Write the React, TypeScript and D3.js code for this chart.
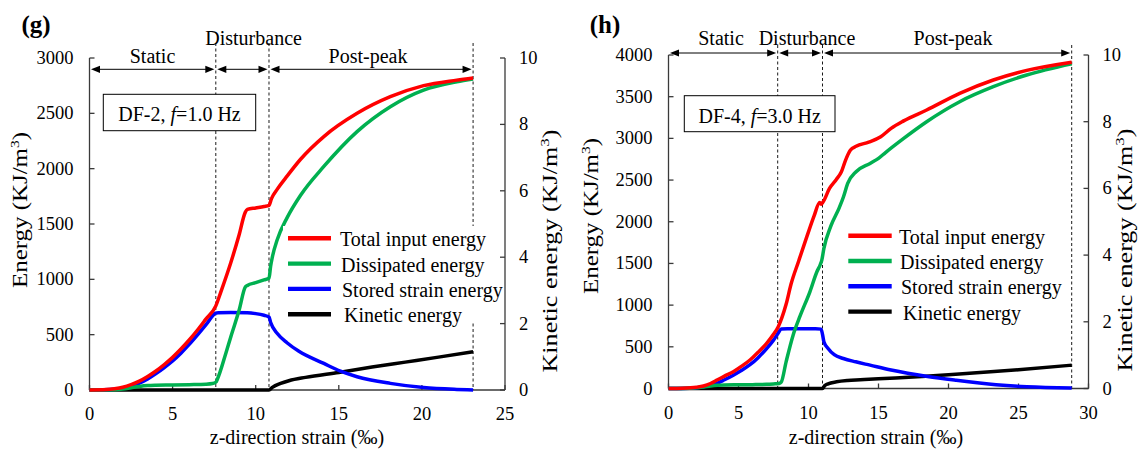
import React from 'react';
import * as d3 from 'd3';

type Pt = [number, number];

// ---- panel (g): DF-2, f = 1.0 Hz ----  [strain ‰, energy KJ/m3]
const gTotal: Pt[] = [[0, 0], [1, 4], [1.5, 12], [2, 25], [2.5, 48], [3, 80], [3.5, 122], [4, 172], [4.5, 230], [5, 295], [5.5, 370], [6, 452], [6.5, 542], [7, 640], [7.6, 760], [7.9, 885], [8.5, 1150], [9, 1400], [9.37, 1605], [9.5, 1632], [10, 1645], [10.5, 1658], [10.8, 1668], [10.95, 1730], [11.3, 1815], [11.9, 1935], [12.7, 2085], [14.1, 2290], [16.1, 2500], [18.1, 2650], [20.1, 2750], [22.1, 2800], [23.08, 2820]];
const gDissipated: Pt[] = [[0, 0], [1.5, 2], [2, 8], [2.5, 20], [3, 32], [3.5, 40], [4, 43], [5, 45], [6, 48], [7, 52], [7.4, 58], [7.6, 70], [7.7, 100], [8.2, 330], [8.5, 480], [9, 720], [9.37, 930], [9.5, 945], [10, 970], [10.5, 995], [10.8, 1010], [10.9, 1120], [11, 1200], [11.3, 1360], [11.9, 1560], [12.7, 1760], [14.1, 2020], [16.1, 2335], [18.1, 2560], [20.1, 2710], [22.1, 2785], [23.08, 2810]];
const gStored: Pt[] = [[0, 0], [1.5, 6], [2, 16], [2.5, 34], [3, 62], [3.5, 100], [4, 148], [4.5, 203], [5, 263], [5.5, 333], [6, 412], [6.5, 498], [7, 588], [7.6, 694], [7.75, 698], [8.5, 700], [9.5, 698], [10, 690], [10.5, 675], [10.8, 660], [10.9, 610], [11.3, 510], [11.9, 425], [12.6, 350], [14.1, 240], [15.1, 170], [16.1, 120], [18.1, 60], [20.1, 22], [22.1, 5], [23.08, 0]];
// kinetic energy on the right axis (0–10 KJ/m3)
const gKinetic: Pt[] = [[0, 0], [10.8, 0], [11, 0.08], [11.5, 0.2], [12, 0.28], [13, 0.38], [15, 0.53], [17, 0.69], [19, 0.84], [21, 0.99], [23.08, 1.15]];
const gPhaseEnds = [7.6, 10.8, 23.08];

// ---- panel (h): DF-4, f = 3.0 Hz ----
const hTotal: Pt[] = [[0, 0], [1, 3], [2, 15], [2.5, 30], [3, 60], [3.5, 105], [4, 148], [4.63, 202], [5.2, 265], [5.82, 342], [6.4, 435], [7.01, 542], [7.5, 650], [7.84, 742], [8.1, 850], [8.4, 1010], [8.75, 1250], [9.3, 1530], [9.9, 1830], [10.4, 2070], [10.8, 2230], [10.9, 2210], [11.05, 2240], [11.5, 2400], [12, 2510], [12.35, 2600], [12.65, 2740], [13, 2860], [13.4, 2905], [14.3, 2955], [15.16, 3020], [15.9, 3120], [16.8, 3210], [18.44, 3340], [20.8, 3540], [23.2, 3700], [25.59, 3815], [28.8, 3914]];
const hDissipated: Pt[] = [[0, 0], [1.5, 3], [2, 8], [2.5, 18], [3, 30], [3.5, 38], [4, 42], [5, 44], [6, 46], [7, 50], [7.5, 55], [7.9, 60], [8.05, 75], [8.4, 320], [8.9, 640], [9.4, 870], [10.1, 1160], [10.6, 1400], [10.85, 1490], [10.95, 1540], [11.1, 1680], [11.6, 1950], [12.2, 2170], [12.5, 2300], [12.8, 2460], [13.4, 2600], [14.4, 2700], [15, 2760], [15.5, 2830], [16.8, 3000], [18.44, 3200], [20.8, 3440], [23.2, 3620], [25.59, 3760], [28.8, 3894]];
const hStored: Pt[] = [[0, 0], [1.5, 3], [2, 10], [2.5, 22], [3, 40], [3.5, 65], [4, 105], [4.63, 160], [5.2, 215], [5.82, 285], [6.4, 370], [7.01, 480], [7.5, 580], [7.84, 665], [8.05, 715], [8.5, 718], [9.5, 718], [10.5, 718], [10.9, 712], [11, 650], [11.1, 560], [11.4, 480], [11.84, 405], [12.49, 360], [13.37, 320], [14.4, 280], [15.9, 222], [18.5, 145], [20.5, 100], [23.4, 45], [25.6, 20], [28.8, 5]];
const hKinetic: Pt[] = [[0, 0], [11, 0], [11.15, 0.08], [11.4, 0.14], [12, 0.2], [12.8, 0.24], [13.7, 0.26], [15, 0.29], [18.1, 0.36], [20, 0.41], [22, 0.47], [25, 0.56], [28.8, 0.7]];
const hPhaseEnds = [7.8, 11.0, 28.8];

const phaseNames = ['Static', 'Disturbance', 'Post-peak'];
const legendNames = ['Total input energy', 'Dissipated energy', 'Stored strain energy', 'Kinetic energy'];
const seriesColors = ['#ff0000', '#00b050', '#0000ff', '#000000'];
const gEnergyTicks = [0, 500, 1000, 1500, 2000, 2500, 3000];
const hEnergyTicks = [0, 500, 1000, 1500, 2000, 2500, 3000, 3500, 4000];
const kineticTicks = [0, 2, 4, 6, 8, 10];
const gStrainTicks = [0, 5, 10, 15, 20, 25];
const hStrainTicks = [0, 5, 10, 15, 20, 25, 30];

const FONT = "'Liberation Serif', 'Times New Roman', Times, serif";
const AXIS = '#3a3a3a';

const panels = [
  {
    tag: '(g)', tagX: 36, caseName: 'DF-2, ', freq: '1.0',
    series: [gTotal, gDissipated, gStored], kinetic: gKinetic, phaseEnds: gPhaseEnds,
    xMax: 25, yMax: 3000, energyTicks: gEnergyTicks, strainTicks: gStrainTicks,
    left: 89.5, right: 505, top: 58, bottom: 390,
    arrowY: 69.3, dashTop: 43,
    phaseLabel: [[152.5, 63], [253.6, 45], [368, 63]],
    box: { x: 103.3, y: 94.3, w: 152.4, h: 36.4 },
    legend: { x1: 288, x2: 331, tx: 340, y0: 238.3, dy: 25.3, bx: 283, by: 226, bw: 204, bh: 96 },
    yLab: { x: 27, y: 210 }, kLab: { x: 557, y: 251 }, xLabX: 297,
  },
  {
    tag: '(h)', tagX: 605, caseName: 'DF-4, ', freq: '3.0',
    series: [hTotal, hDissipated, hStored], kinetic: hKinetic, phaseEnds: hPhaseEnds,
    xMax: 30, yMax: 4000, energyTicks: hEnergyTicks, strainTicks: hStrainTicks,
    left: 668.5, right: 1088.5, top: 55, bottom: 388.5,
    arrowY: 53, dashTop: 45,
    phaseLabel: [[721, 45], [807, 45], [953, 45]],
    box: { x: 684.3, y: 95.7, w: 150.7, h: 36 },
    legend: { x1: 848.3, x2: 891.7, tx: 899, y0: 235.7, dy: 25.3, bx: 843, by: 223, bw: 215, bh: 100 },
    yLab: { x: 598, y: 216 }, kLab: { x: 1132, y: 250 }, xLabX: 876,
  },
];

function Arrow({ x1, x2, y }: { x1: number; x2: number; y: number }) {
  const L = 9, W = 3.6;
  const a = x1 + 1.5, b = x2 - 1.5;
  return (
    <g>
      <line x1={a + L - 1} x2={b - L + 1} y1={y} y2={y} stroke="#000" strokeWidth={1} />
      <path d={`M${a},${y}L${a + L},${y - W}L${a + L},${y + W}Z`} fill="#000" />
      <path d={`M${b},${y}L${b - L},${y - W}L${b - L},${y + W}Z`} fill="#000" />
    </g>
  );
}

function Panel({ p }: { p: typeof panels[number] }) {
  const x = d3.scaleLinear().domain([0, p.xMax]).range([p.left, p.right]);
  const y = d3.scaleLinear().domain([0, p.yMax]).range([p.bottom, p.top]);
  const k = d3.scaleLinear().domain([0, 10]).range([p.bottom, p.top]);
  const lineE = d3.line<Pt>().x(d => x(d[0])).y(d => y(d[1])).curve(d3.curveMonotoneX);
  const lineK = d3.line<Pt>().x(d => x(d[0])).y(d => k(d[1])).curve(d3.curveMonotoneX);
  const bounds = [0, ...p.phaseEnds];
  const lg = p.legend;

  return (
    <g fontFamily={FONT} fill="#000">
      <text x={p.tagX} y={33} fontSize={25} fontWeight="bold" textAnchor="middle">{p.tag}</text>

      {/* axes */}
      <line x1={p.left} x2={p.left} y1={p.top} y2={p.bottom} stroke={AXIS} strokeWidth={1.3} />
      <line x1={p.right} x2={p.right} y1={p.top} y2={p.bottom} stroke={AXIS} strokeWidth={1.3} />
      <line x1={p.left} x2={p.right} y1={p.bottom} y2={p.bottom} stroke={AXIS} strokeWidth={1.3} />
      {p.energyTicks.map(t => (
        <g key={'e' + t}>
          <line x1={p.left} x2={p.left + 5} y1={y(t)} y2={y(t)} stroke={AXIS} strokeWidth={1.3} />
          <text x={p.left - 16} y={y(t) + 6} fontSize={18.5} textAnchor="end">{t}</text>
        </g>
      ))}
      {kineticTicks.map(t => (
        <g key={'k' + t}>
          <line x1={p.right - 5} x2={p.right} y1={k(t)} y2={k(t)} stroke={AXIS} strokeWidth={1.3} />
          <text x={p.right + 14} y={k(t) + 6} fontSize={18.5} textAnchor="start">{t}</text>
        </g>
      ))}
      {p.strainTicks.map(t => (
        <g key={'s' + t}>
          <line x1={x(t)} x2={x(t)} y1={p.bottom} y2={p.bottom - 5} stroke={AXIS} strokeWidth={1.3} />
          <text x={x(t)} y={p.bottom + 30} fontSize={18.5} textAnchor="middle">{t}</text>
        </g>
      ))}

      {/* axis titles */}
      <text x={p.xLabX} y={444} fontSize={20} textAnchor="middle">z-direction strain (‰)</text>
      <text transform={`translate(${p.yLab.x},${p.yLab.y}) rotate(-90)`} fontSize={21} textAnchor="middle"
        textLength={156} lengthAdjust="spacingAndGlyphs">
        Energy (KJ/m<tspan dy={-8} fontSize={13}>3</tspan><tspan dy={8}>)</tspan>
      </text>
      <text transform={`translate(${p.kLab.x},${p.kLab.y}) rotate(-90)`} fontSize={20} textAnchor="middle"
        textLength={243} lengthAdjust="spacingAndGlyphs">
        Kinetic energy (KJ/m<tspan dy={-8} fontSize={13}>3</tspan><tspan dy={8}>)</tspan>
      </text>

      {/* phase boundaries */}
      {p.phaseEnds.map(s => (
        <line key={'d' + s} x1={x(s)} x2={x(s)} y1={p.dashTop} y2={p.bottom}
          stroke="#000" strokeWidth={0.9} strokeDasharray="3,2.5" />
      ))}
      {phaseNames.map((n, i) => (
        <g key={n}>
          <Arrow x1={x(bounds[i])} x2={x(bounds[i + 1])} y={p.arrowY} />
          <text x={p.phaseLabel[i][0]} y={p.phaseLabel[i][1]} fontSize={20} textAnchor="middle">{n}</text>
        </g>
      ))}

      {/* curves */}
      <path d={lineK(p.kinetic) || ''} fill="none" stroke={seriesColors[3]} strokeWidth={3.5} />
      {[2, 1, 0].map(i => (
        <path key={'c' + i} d={lineE(p.series[i]) || ''} fill="none" stroke={seriesColors[i]}
          strokeWidth={3.5} strokeLinejoin="round" />
      ))}

      {/* case box */}
      <rect x={p.box.x} y={p.box.y} width={p.box.w} height={p.box.h} fill="#fff" stroke="#000" strokeWidth={1} />
      <text x={p.box.x + p.box.w / 2} y={p.box.y + 27} fontSize={20} textAnchor="middle">
        {p.caseName}<tspan fontStyle="italic">f</tspan>={p.freq} Hz
      </text>

      {/* legend */}
      <rect x={lg.bx} y={lg.by} width={lg.bw} height={lg.bh} fill="#fff" />
      {legendNames.map((n, i) => (
        <g key={n}>
          <line x1={lg.x1} x2={lg.x2} y1={lg.y0 + i * lg.dy} y2={lg.y0 + i * lg.dy}
            stroke={seriesColors[i]} strokeWidth={4.4} />
          <text x={lg.tx + (i === 3 ? 4 : i)} y={lg.y0 + i * lg.dy + 8} fontSize={20}>{n}</text>
        </g>
      ))}
    </g>
  );
}

export default function App() {
  return (
    <svg width={1138} height={449} viewBox="0 0 1138 449"
      style={{ position: 'absolute', left: 0, top: 0, background: '#fff', display: 'block' }}>
      <rect width={1138} height={449} fill="#fff" />
      {panels.map(p => <Panel key={p.tag} p={p} />)}
    </svg>
  );
}
